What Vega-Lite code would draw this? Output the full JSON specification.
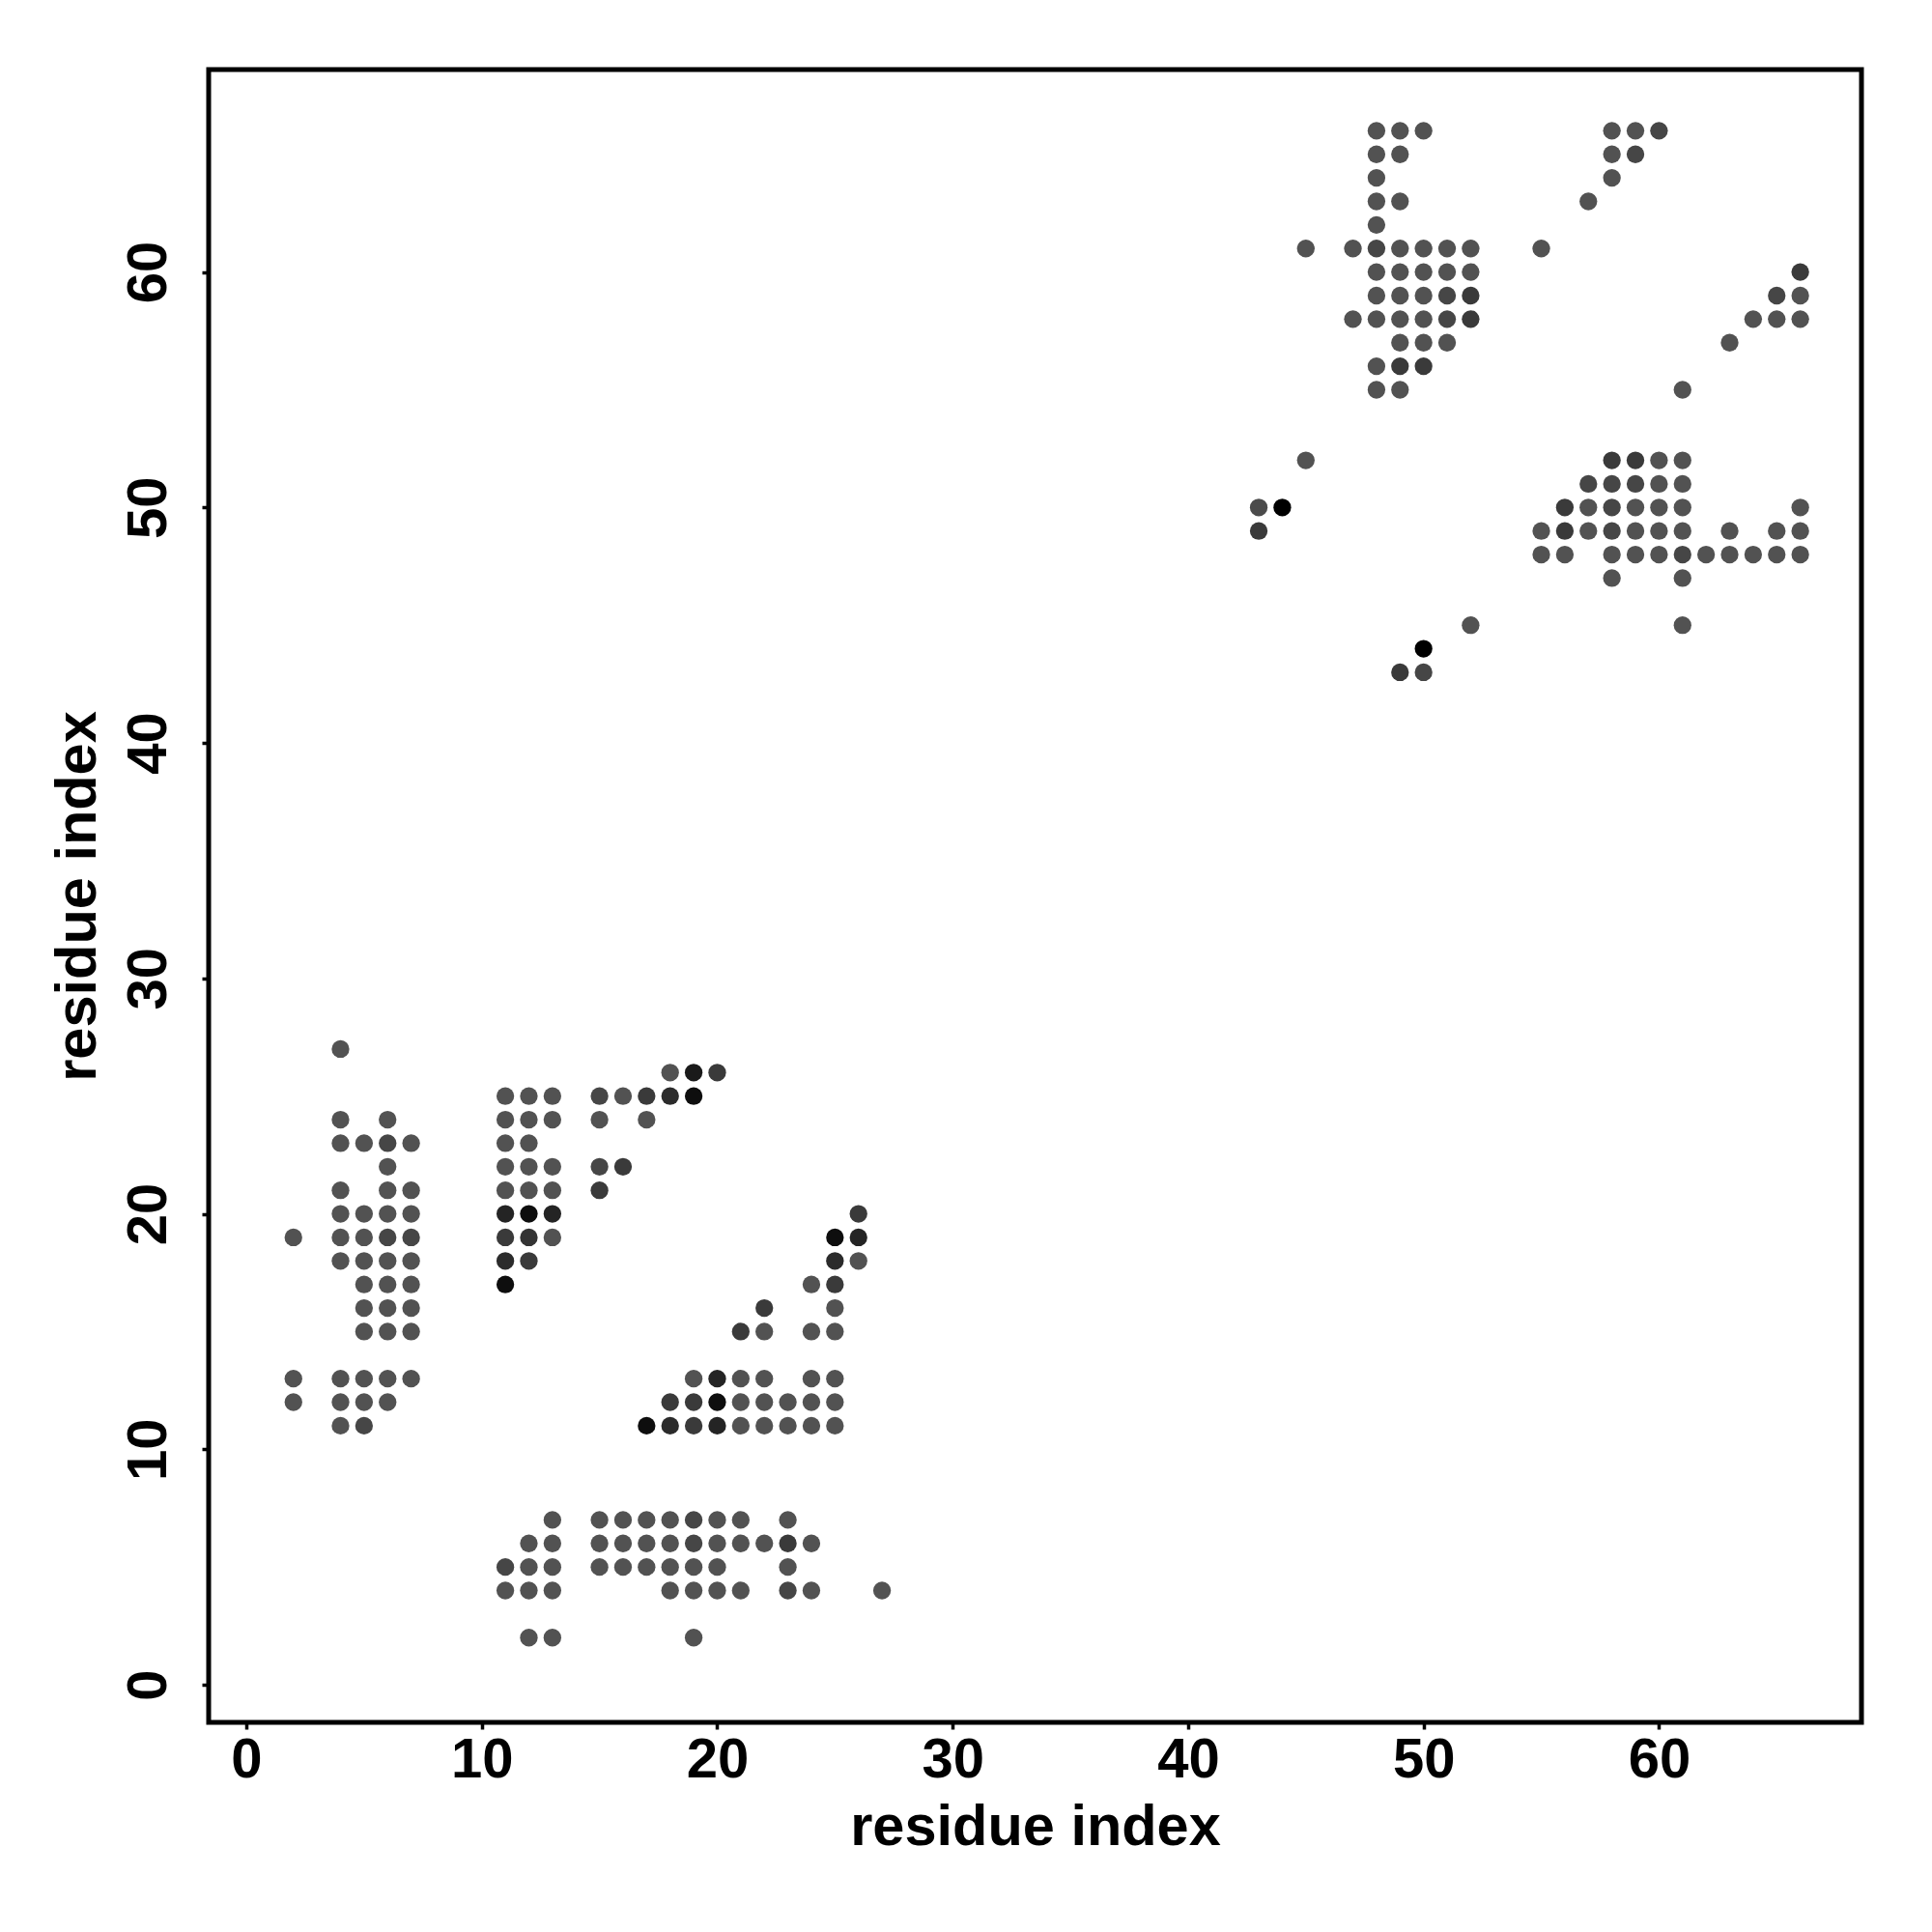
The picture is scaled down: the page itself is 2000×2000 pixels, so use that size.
{
  "$schema": "https://vega.github.io/schema/vega-lite/v6.json",
  "autosize": "none",
  "padding": {"left": 216, "top": 72, "right": 73, "bottom": 217},
  "width": 1711,
  "height": 1711,
  "background": "white",
  "config": {
    "view": {"stroke": "black", "strokeWidth": 5},
    "axis": {
      "domain": false,
      "grid": false,
      "ticks": true,
      "tickColor": "black",
      "tickWidth": 3.5,
      "tickSize": 7,
      "labelFont": "Liberation Sans",
      "labelFontWeight": "bold",
      "labelFontSize": 58,
      "labelColor": "black",
      "titleFont": "Liberation Sans",
      "titleFontWeight": "bold",
      "titleFontSize": 59.5,
      "titleColor": "black"
    }
  },
  "data": {
    "values": [
      {"i": 4, "j": 27, "w": 1},
      {"i": 4, "j": 24, "w": 1}, {"i": 6, "j": 24, "w": 1},
      {"i": 4, "j": 23, "w": 1}, {"i": 5, "j": 23, "w": 1}, {"i": 6, "j": 23, "w": 1.5}, {"i": 7, "j": 23, "w": 1},
      {"i": 6, "j": 22, "w": 1},
      {"i": 4, "j": 21, "w": 1}, {"i": 6, "j": 21, "w": 1}, {"i": 7, "j": 21, "w": 1},
      {"i": 4, "j": 20, "w": 1}, {"i": 5, "j": 20, "w": 1}, {"i": 6, "j": 20, "w": 1}, {"i": 7, "j": 20, "w": 1},
      {"i": 2, "j": 19, "w": 1}, {"i": 4, "j": 19, "w": 1}, {"i": 5, "j": 19, "w": 1}, {"i": 6, "j": 19, "w": 1.5}, {"i": 7, "j": 19, "w": 1.5},
      {"i": 4, "j": 18, "w": 1}, {"i": 5, "j": 18, "w": 1}, {"i": 6, "j": 18, "w": 1}, {"i": 7, "j": 18, "w": 1},
      {"i": 5, "j": 17, "w": 1}, {"i": 6, "j": 17, "w": 1}, {"i": 7, "j": 17, "w": 1},
      {"i": 5, "j": 16, "w": 1}, {"i": 6, "j": 16, "w": 1}, {"i": 7, "j": 16, "w": 1},
      {"i": 5, "j": 15, "w": 1}, {"i": 6, "j": 15, "w": 1}, {"i": 7, "j": 15, "w": 1},
      {"i": 2, "j": 13, "w": 1}, {"i": 4, "j": 13, "w": 1}, {"i": 5, "j": 13, "w": 1}, {"i": 6, "j": 13, "w": 1}, {"i": 7, "j": 13, "w": 1},
      {"i": 2, "j": 12, "w": 1}, {"i": 4, "j": 12, "w": 1}, {"i": 5, "j": 12, "w": 1}, {"i": 6, "j": 12, "w": 1},
      {"i": 4, "j": 11, "w": 1}, {"i": 5, "j": 11, "w": 1.5},
      {"i": 11, "j": 25, "w": 1}, {"i": 12, "j": 25, "w": 1}, {"i": 13, "j": 25, "w": 1},
      {"i": 11, "j": 24, "w": 1}, {"i": 12, "j": 24, "w": 1}, {"i": 13, "j": 24, "w": 1},
      {"i": 11, "j": 23, "w": 1}, {"i": 12, "j": 23, "w": 1},
      {"i": 11, "j": 22, "w": 1}, {"i": 12, "j": 22, "w": 1}, {"i": 13, "j": 22, "w": 1},
      {"i": 11, "j": 21, "w": 1}, {"i": 12, "j": 21, "w": 1}, {"i": 13, "j": 21, "w": 1},
      {"i": 11, "j": 20, "w": 3}, {"i": 12, "j": 20, "w": 4}, {"i": 13, "j": 20, "w": 3},
      {"i": 11, "j": 19, "w": 2}, {"i": 12, "j": 19, "w": 2.3}, {"i": 13, "j": 19, "w": 1},
      {"i": 11, "j": 18, "w": 2.7}, {"i": 12, "j": 18, "w": 2},
      {"i": 11, "j": 17, "w": 4},
      {"i": 15, "j": 25, "w": 1.5}, {"i": 16, "j": 25, "w": 1}, {"i": 17, "j": 25, "w": 2}, {"i": 18, "j": 25, "w": 2.7}, {"i": 19, "j": 25, "w": 4},
      {"i": 18, "j": 26, "w": 1}, {"i": 19, "j": 26, "w": 3.5}, {"i": 20, "j": 26, "w": 2},
      {"i": 15, "j": 24, "w": 1}, {"i": 17, "j": 24, "w": 1},
      {"i": 15, "j": 22, "w": 1.5}, {"i": 16, "j": 22, "w": 2},
      {"i": 15, "j": 21, "w": 2},
      {"i": 26, "j": 20, "w": 2},
      {"i": 25, "j": 19, "w": 4}, {"i": 26, "j": 19, "w": 3},
      {"i": 25, "j": 18, "w": 2.7}, {"i": 26, "j": 18, "w": 1},
      {"i": 24, "j": 17, "w": 1}, {"i": 25, "j": 17, "w": 2},
      {"i": 22, "j": 16, "w": 2}, {"i": 25, "j": 16, "w": 1},
      {"i": 21, "j": 15, "w": 2}, {"i": 22, "j": 15, "w": 1}, {"i": 24, "j": 15, "w": 1}, {"i": 25, "j": 15, "w": 1},
      {"i": 19, "j": 13, "w": 1}, {"i": 20, "j": 13, "w": 3}, {"i": 21, "j": 13, "w": 1}, {"i": 22, "j": 13, "w": 1}, {"i": 24, "j": 13, "w": 1}, {"i": 25, "j": 13, "w": 1},
      {"i": 18, "j": 12, "w": 2}, {"i": 19, "j": 12, "w": 2}, {"i": 20, "j": 12, "w": 4}, {"i": 21, "j": 12, "w": 1}, {"i": 22, "j": 12, "w": 1}, {"i": 23, "j": 12, "w": 1}, {"i": 24, "j": 12, "w": 1}, {"i": 25, "j": 12, "w": 1},
      {"i": 17, "j": 11, "w": 4}, {"i": 18, "j": 11, "w": 2.7}, {"i": 19, "j": 11, "w": 2}, {"i": 20, "j": 11, "w": 3}, {"i": 21, "j": 11, "w": 1}, {"i": 22, "j": 11, "w": 1}, {"i": 23, "j": 11, "w": 1}, {"i": 24, "j": 11, "w": 1}, {"i": 25, "j": 11, "w": 1},
      {"i": 13, "j": 7, "w": 1}, {"i": 15, "j": 7, "w": 1}, {"i": 16, "j": 7, "w": 1}, {"i": 17, "j": 7, "w": 1}, {"i": 18, "j": 7, "w": 1}, {"i": 19, "j": 7, "w": 1.5}, {"i": 20, "j": 7, "w": 1}, {"i": 21, "j": 7, "w": 1}, {"i": 23, "j": 7, "w": 1},
      {"i": 12, "j": 6, "w": 1}, {"i": 13, "j": 6, "w": 1}, {"i": 15, "j": 6, "w": 1}, {"i": 16, "j": 6, "w": 1}, {"i": 17, "j": 6, "w": 1}, {"i": 18, "j": 6, "w": 1}, {"i": 19, "j": 6, "w": 1.5}, {"i": 20, "j": 6, "w": 1}, {"i": 21, "j": 6, "w": 1}, {"i": 22, "j": 6, "w": 1}, {"i": 23, "j": 6, "w": 2}, {"i": 24, "j": 6, "w": 1},
      {"i": 11, "j": 5, "w": 1.5}, {"i": 12, "j": 5, "w": 1}, {"i": 13, "j": 5, "w": 1}, {"i": 15, "j": 5, "w": 1}, {"i": 16, "j": 5, "w": 1}, {"i": 17, "j": 5, "w": 1}, {"i": 18, "j": 5, "w": 1}, {"i": 19, "j": 5, "w": 1}, {"i": 20, "j": 5, "w": 1}, {"i": 23, "j": 5, "w": 1},
      {"i": 11, "j": 4, "w": 1}, {"i": 12, "j": 4, "w": 1}, {"i": 13, "j": 4, "w": 1}, {"i": 18, "j": 4, "w": 1}, {"i": 19, "j": 4, "w": 1}, {"i": 20, "j": 4, "w": 1}, {"i": 21, "j": 4, "w": 1}, {"i": 23, "j": 4, "w": 1.5}, {"i": 24, "j": 4, "w": 1}, {"i": 27, "j": 4, "w": 1},
      {"i": 12, "j": 2, "w": 1}, {"i": 13, "j": 2, "w": 1}, {"i": 19, "j": 2, "w": 1},
      {"i": 48, "j": 66, "w": 1}, {"i": 49, "j": 66, "w": 1}, {"i": 50, "j": 66, "w": 1},
      {"i": 48, "j": 65, "w": 1}, {"i": 49, "j": 65, "w": 1},
      {"i": 48, "j": 64, "w": 1},
      {"i": 48, "j": 63, "w": 1}, {"i": 49, "j": 63, "w": 1},
      {"i": 48, "j": 62, "w": 1},
      {"i": 45, "j": 61, "w": 1}, {"i": 47, "j": 61, "w": 1}, {"i": 48, "j": 61, "w": 1.5}, {"i": 49, "j": 61, "w": 1}, {"i": 50, "j": 61, "w": 1}, {"i": 51, "j": 61, "w": 1}, {"i": 52, "j": 61, "w": 1}, {"i": 55, "j": 61, "w": 1},
      {"i": 48, "j": 60, "w": 1}, {"i": 49, "j": 60, "w": 1}, {"i": 50, "j": 60, "w": 1}, {"i": 51, "j": 60, "w": 1}, {"i": 52, "j": 60, "w": 1},
      {"i": 48, "j": 59, "w": 1}, {"i": 49, "j": 59, "w": 1}, {"i": 50, "j": 59, "w": 1}, {"i": 51, "j": 59, "w": 1.5}, {"i": 52, "j": 59, "w": 2},
      {"i": 47, "j": 58, "w": 1}, {"i": 48, "j": 58, "w": 1}, {"i": 49, "j": 58, "w": 1}, {"i": 50, "j": 58, "w": 1}, {"i": 51, "j": 58, "w": 1.5}, {"i": 52, "j": 58, "w": 2},
      {"i": 49, "j": 57, "w": 1}, {"i": 50, "j": 57, "w": 1}, {"i": 51, "j": 57, "w": 1},
      {"i": 48, "j": 56, "w": 1}, {"i": 49, "j": 56, "w": 2}, {"i": 50, "j": 56, "w": 2},
      {"i": 48, "j": 55, "w": 1}, {"i": 49, "j": 55, "w": 1},
      {"i": 45, "j": 52, "w": 1},
      {"i": 58, "j": 66, "w": 1}, {"i": 59, "j": 66, "w": 1}, {"i": 60, "j": 66, "w": 1.5},
      {"i": 58, "j": 65, "w": 1}, {"i": 59, "j": 65, "w": 1.5},
      {"i": 58, "j": 64, "w": 1},
      {"i": 57, "j": 63, "w": 1},
      {"i": 66, "j": 60, "w": 2},
      {"i": 65, "j": 59, "w": 1.5}, {"i": 66, "j": 59, "w": 1},
      {"i": 64, "j": 58, "w": 1}, {"i": 65, "j": 58, "w": 1}, {"i": 66, "j": 58, "w": 1},
      {"i": 63, "j": 57, "w": 1},
      {"i": 61, "j": 55, "w": 1},
      {"i": 43, "j": 50, "w": 1.3}, {"i": 44, "j": 50, "w": 4.4},
      {"i": 43, "j": 49, "w": 2},
      {"i": 52, "j": 45, "w": 1},
      {"i": 50, "j": 44, "w": 4.4},
      {"i": 49, "j": 43, "w": 2}, {"i": 50, "j": 43, "w": 1.5},
      {"i": 58, "j": 52, "w": 2}, {"i": 59, "j": 52, "w": 2}, {"i": 60, "j": 52, "w": 1}, {"i": 61, "j": 52, "w": 1},
      {"i": 57, "j": 51, "w": 1.5}, {"i": 58, "j": 51, "w": 1.5}, {"i": 59, "j": 51, "w": 1.5}, {"i": 60, "j": 51, "w": 1}, {"i": 61, "j": 51, "w": 1},
      {"i": 56, "j": 50, "w": 2}, {"i": 57, "j": 50, "w": 1}, {"i": 58, "j": 50, "w": 1.5}, {"i": 59, "j": 50, "w": 1}, {"i": 60, "j": 50, "w": 1}, {"i": 61, "j": 50, "w": 1}, {"i": 66, "j": 50, "w": 1},
      {"i": 55, "j": 49, "w": 1}, {"i": 56, "j": 49, "w": 2}, {"i": 57, "j": 49, "w": 1}, {"i": 58, "j": 49, "w": 1.5}, {"i": 59, "j": 49, "w": 1}, {"i": 60, "j": 49, "w": 1}, {"i": 61, "j": 49, "w": 1}, {"i": 63, "j": 49, "w": 1}, {"i": 65, "j": 49, "w": 1}, {"i": 66, "j": 49, "w": 1},
      {"i": 55, "j": 48, "w": 1}, {"i": 56, "j": 48, "w": 1}, {"i": 58, "j": 48, "w": 1}, {"i": 59, "j": 48, "w": 1}, {"i": 60, "j": 48, "w": 1}, {"i": 61, "j": 48, "w": 1.5}, {"i": 62, "j": 48, "w": 1}, {"i": 63, "j": 48, "w": 1}, {"i": 64, "j": 48, "w": 1}, {"i": 65, "j": 48, "w": 1}, {"i": 66, "j": 48, "w": 1},
      {"i": 58, "j": 47, "w": 1}, {"i": 61, "j": 47, "w": 1},
      {"i": 61, "j": 45, "w": 1}
    ]
  },
  "mark": {"type": "circle", "size": 335, "opacity": 1},
  "encoding": {
    "x": {
      "field": "i",
      "type": "quantitative",
      "scale": {"domain": [-1.6, 68.6], "nice": false, "zero": false},
      "axis": {
        "title": "residue index",
        "values": [0, 10, 20, 30, 40, 50, 60],
        "labelBaseline": "alphabetic",
        "labelPadding": 49,
        "titleBaseline": "alphabetic",
        "titleY": 126,
        "titleX": 855.5,
        "titleAnchor": "middle"
      }
    },
    "y": {
      "field": "j",
      "type": "quantitative",
      "scale": {"domain": [-1.6, 68.6], "nice": false, "zero": false},
      "axis": {
        "title": "residue index",
        "values": [0, 10, 20, 30, 40, 50, 60],
        "labelAngle": -90,
        "labelAlign": "center",
        "labelBaseline": "alphabetic",
        "labelPadding": 38,
        "titleAngle": -90,
        "titleBaseline": "alphabetic",
        "titleX": -118,
        "titleY": 855.5,
        "titleAnchor": "middle"
      }
    },
    "color": {
      "field": "w",
      "type": "quantitative",
      "scale": {"domain": [1, 4.4], "range": ["#525252", "#000000"]},
      "legend": null
    }
  }
}
